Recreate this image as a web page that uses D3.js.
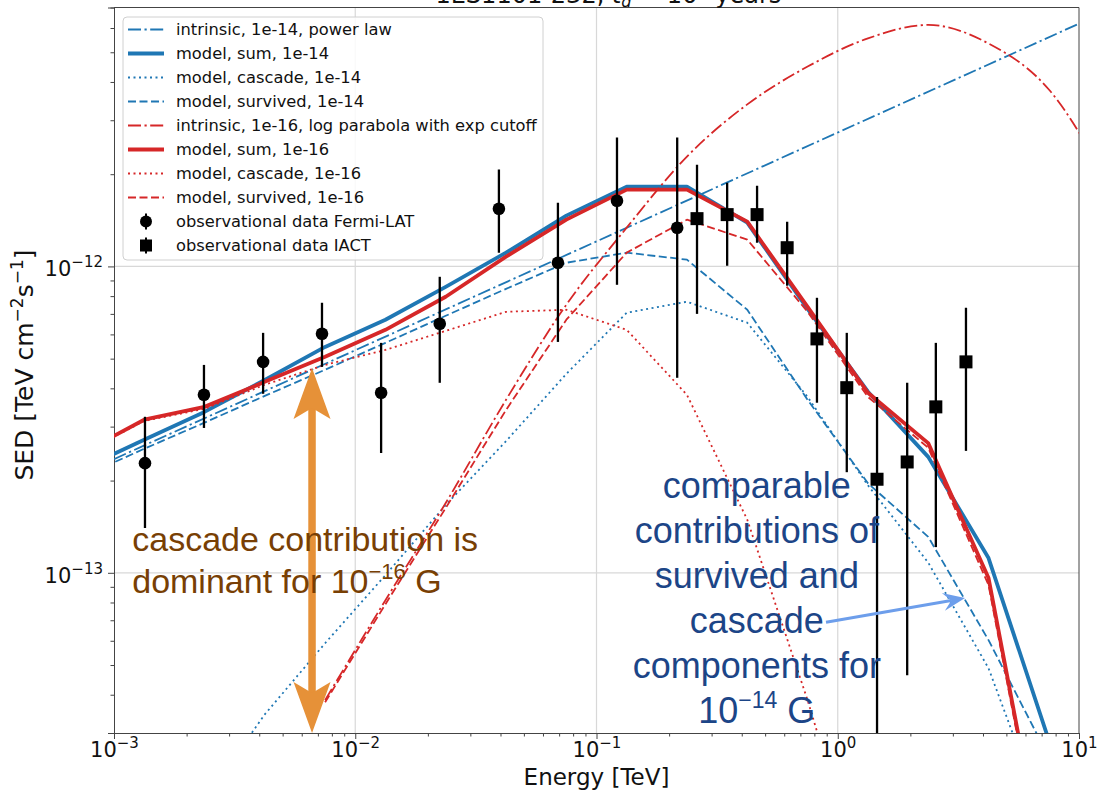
<!DOCTYPE html>
<html>
<head>
<meta charset="utf-8">
<script src="https://cdn.jsdelivr.net/npm/d3@7"></script>
<style>
    body { margin: 0; background: #fff; }
    svg { display: block; }
    text { font-family: "DejaVu Sans", sans-serif; }
    .note { font-family: "Liberation Sans", Arial, sans-serif; }
</style>
</head>
<body>
<svg id="chart" width="1097" height="792"></svg>
<script>
// model energy grid (TeV), 4 bins per decade
var energyGrid = [7.50e-4, 1.334e-3, 2.371e-3, 4.217e-3, 7.499e-3, 1.334e-2, 2.371e-2, 4.217e-2, 7.499e-2,
    0.1334, 0.2371, 0.4217, 0.7499, 1.334, 2.371, 4.217, 7.499, 13.34];

// intrinsic power law, 1e-14 G (straight in log-log)
var plawEnergy = [1e-3, 10],
    plawSed = [2.35e-13, 6.2e-12];

// B = 1e-14 G
var sum14 = [2.20e-13, 2.72e-13, 3.35e-13, 4.26e-13, 5.46e-13, 6.70e-13, 8.58e-13, 1.109e-12, 1.465e-12,
    1.822e-12, 1.822e-12, 1.389e-12, 7.27e-13, 3.90e-13, 2.39e-13, 1.117e-13, 2.84e-14, 5.9e-15];
var cascade14 = [null, null, 1.81e-14, 3.45e-14, 5.89e-14, 9.83e-14, 1.664e-13, 2.69e-13, 4.46e-13,
    7.06e-13, 7.67e-13, 6.55e-13, 3.75e-13, 1.93e-13, 1.08e-13, 4.88e-14, 1.44e-14, null];
var survived14 = [2.07e-13, 2.54e-13, 3.09e-13, 3.78e-13, 4.60e-13, 5.63e-13, 6.90e-13, 8.45e-13, 1.028e-12,
    1.109e-12, 1.052e-12, 7.22e-13, 3.67e-13, 1.96e-13, 1.31e-13, 6.03e-14, 2.50e-14, 8.5e-15];

// B = 1e-16 G
var intrinsic16 = [null, null, null, null, 3.84e-14, 8.14e-14, 1.69e-13, 3.67e-13, 7.50e-13,
    1.338e-12, 2.283e-12, 3.38e-12, 4.49e-12, 5.55e-12, 6.14e-12, 5.34e-12, 3.78e-12, 1.85e-12];
var sum16 = [2.48e-13, 3.16e-13, 3.48e-13, 4.20e-13, 5.07e-13, 6.21e-13, 7.96e-13, 1.076e-12, 1.421e-12,
    1.781e-12, 1.781e-12, 1.400e-12, 7.38e-13, 3.87e-13, 2.65e-13, 9.61e-14, 8.9e-15, null];
var cascade16 = [2.47e-13, 3.13e-13, 3.43e-13, 4.11e-13, 4.77e-13, 5.34e-13, 6.16e-13, 7.11e-13, 7.22e-13,
    6.21e-13, 3.81e-13, 1.49e-13, 3.84e-14, 8.5e-15, null, null, null, null];
var survived16 = [null, null, null, null, 3.78e-14, 7.90e-14, 1.627e-13, 3.40e-13, 6.70e-13,
    1.109e-12, 1.421e-12, 1.223e-12, 7.11e-13, 3.75e-13, 2.56e-13, 9.12e-14, 8.5e-15, null];

// observations
var fermiE = [1.344e-3, 2.36e-3, 4.15e-3, 7.28e-3, 1.28e-2, 2.24e-2, 3.94e-2, 6.92e-2, 0.1216, 0.216],
    fermiSed = [2.28e-13, 3.81e-13, 4.88e-13, 6.03e-13, 3.87e-13, 6.50e-13, 1.543e-12, 1.028e-12, 1.639e-12, 1.338e-12],
    fermiLo = [1.40e-13, 2.97e-13, 3.84e-13, 4.70e-13, 2.46e-13, 4.17e-13, 1.109e-12, 5.67e-13, 8.71e-13, 4.33e-13],
    fermiHi = [3.23e-13, 4.77e-13, 6.07e-13, 7.61e-13, 5.63e-13, 9.25e-13, 2.07e-12, 1.615e-12, 2.634e-12, 2.634e-12];
var iactE = [0.261, 0.348, 0.463, 0.617, 0.820, 1.09, 1.455, 1.94, 2.55, 3.40],
    iactSed = [1.432e-12, 1.476e-12, 1.476e-12, 1.151e-12, 5.80e-13, 4.02e-13, 2.02e-13, 2.30e-13, 3.48e-13, 4.88e-13],
    iactLo = [7.0e-13, 1.005e-12, 1.195e-12, 8.65e-13, 3.59e-13, 2.13e-13, 1e-15, 4.63e-14, 1.213e-13, 2.50e-13],
    iactHi = [2.149e-12, 1.877e-12, 1.835e-12, 1.40e-12, 7.90e-13, 6.07e-13, 3.75e-13, 4.17e-13, 5.63e-13, 7.33e-13];

var xMajor = [1e-3, 1e-2, 1e-1, 1, 10],
    yMajor = [1e-13, 1e-12];

var blue = "#1f77b4",
    red = "#d62728",
    dashStyle = "8,3.5",
    dotStyle = "2,3.5",
    dashDotStyle = "13,3.5,2.2,3.5";

var svg = d3.select("#chart"),
    margin = {top: 7.5, right: 18, bottom: 59, left: 114},
    width = 1097 - margin.left - margin.right,
    height = 792 - margin.top - margin.bottom,
    g = svg.append("g").attr("transform", "translate(" + margin.left + "," + margin.top + ")"),
    x = d3.scaleLog().domain([1e-3, 10]).range([0, width]),
    y = d3.scaleLog().domain([3e-14, 7e-12]).range([height, 0]);

function pairs(es, vs) {
    return es.map(function(e, i) { return [e, vs[i]]; });
}

var series = [
    {label: "intrinsic, 1e-14, power law", data: pairs(plawEnergy, plawSed), color: blue, w: 1.8, dash: dashDotStyle},
    {label: "model, sum, 1e-14", data: pairs(energyGrid, sum14), color: blue, w: 3.8, dash: null},
    {label: "model, cascade, 1e-14", data: pairs(energyGrid, cascade14), color: blue, w: 1.8, dash: dotStyle},
    {label: "model, survived, 1e-14", data: pairs(energyGrid, survived14), color: blue, w: 1.8, dash: dashStyle},
    {label: "intrinsic, 1e-16, log parabola with exp cutoff", data: pairs(energyGrid, intrinsic16), color: red, w: 1.8, dash: dashDotStyle, smooth: true},
    {label: "model, sum, 1e-16", data: pairs(energyGrid, sum16), color: red, w: 3.8, dash: null},
    {label: "model, cascade, 1e-16", data: pairs(energyGrid, cascade16), color: red, w: 1.8, dash: dotStyle},
    {label: "model, survived, 1e-16", data: pairs(energyGrid, survived16), color: red, w: 1.8, dash: dashStyle}
];

// clip
svg.append("defs").append("clipPath").attr("id", "plotClip")
    .append("rect").attr("width", width).attr("height", height);

// title (cut off by the top of the picture)
var title = svg.append("text")
    .attr("x", margin.left + x(0.112))
    .attr("y", 2.5)
    .attr("text-anchor", "middle")
    .attr("font-size", "24px")
    .attr("fill", "#111");
title.append("tspan").text("1ES1101-232, ");
title.append("tspan").attr("font-style", "italic").text("t");
title.append("tspan").attr("font-size", "16px").attr("dy", "4").attr("font-style", "italic").text("d");
title.append("tspan").attr("dy", "-4").text(" = 10");
title.append("tspan").attr("font-size", "16px").attr("dy", "-9").text("6");
title.append("tspan").attr("dy", "9").text(" years");

// grid
g.append("g").selectAll("line").data([1e-2, 1e-1, 1]).enter().append("line")
    .attr("x1", function(d) { return x(d); }).attr("x2", function(d) { return x(d); })
    .attr("y1", 0).attr("y2", height)
    .attr("stroke", "#d8d8d8").attr("stroke-width", 1.2);
g.append("g").selectAll("line").data(yMajor).enter().append("line")
    .attr("y1", function(d) { return y(d); }).attr("y2", function(d) { return y(d); })
    .attr("x1", 0).attr("x2", width)
    .attr("stroke", "#d8d8d8").attr("stroke-width", 1.2);

// minor tick positions
var xMinor = [], yMinor = [];
for (var k = -3; k < 1; k++) {
    for (var m = 2; m < 10; m++) {
        xMinor.push(m * Math.pow(10, k));
    }
}
for (var k2 = -14; k2 < -11; k2++) {
    for (var m2 = 2; m2 < 10; m2++) {
        var v = m2 * Math.pow(10, k2);
        if (v >= 3e-14 && v <= 7e-12) yMinor.push(v);
    }
}

function supTicks(sel) {
    sel.selectAll(".tick text").each(function(d) {
        var t = d3.select(this).text(""),
            p = Math.round(Math.log10(d));
        t.append("tspan").text("10");
        t.append("tspan").attr("font-size", "15px").attr("dy", "-0.6em")
            .text((p < 0 ? "\u2212" : "") + Math.abs(p));
    });
}

var xAxis = g.append("g")
    .attr("transform", "translate(0," + height + ")")
    .call(d3.axisBottom(x).tickValues(xMajor).tickSize(6).tickPadding(5).tickFormat(function(d) { return d; }));
xAxis.selectAll(".tick text").attr("font-size", "21px").attr("fill", "#111").attr("dy", "0.6em");
supTicks(xAxis);
g.append("g")
    .attr("transform", "translate(0," + height + ")")
    .call(d3.axisBottom(x).tickValues(xMinor).tickSize(3.5).tickFormat(""))
    .select(".domain").remove();

var yAxis = g.append("g")
    .call(d3.axisLeft(y).tickValues(yMajor).tickSize(6).tickPadding(5).tickFormat(function(d) { return d; }));
yAxis.selectAll(".tick text").attr("font-size", "21px").attr("fill", "#111").attr("dy", "0.45em");
supTicks(yAxis);
g.append("g")
    .call(d3.axisLeft(y).tickValues(yMinor).tickSize(3.5).tickFormat(""))
    .select(".domain").remove();

g.selectAll(".domain").attr("stroke", "#444");
g.selectAll(".tick line").attr("stroke", "#444");

// top / right spines
g.append("line").attr("x1", 0).attr("x2", width).attr("y1", 0).attr("y2", 0).attr("stroke", "#444");
g.append("line").attr("x1", width).attr("x2", width).attr("y1", 0).attr("y2", height).attr("stroke", "#444");

// axis labels
svg.append("text")
    .attr("x", margin.left + x(0.1))
    .attr("y", 785)
    .attr("text-anchor", "middle")
    .attr("font-size", "23px")
    .attr("fill", "#111")
    .text("Energy [TeV]");

var yLab = svg.append("text")
    .attr("transform", "translate(33,365) rotate(-90)")
    .attr("text-anchor", "middle")
    .attr("font-size", "25px")
    .attr("fill", "#111");
yLab.append("tspan").text("SED [TeV cm");
yLab.append("tspan").attr("font-size", "17px").attr("dy", "-10").text("\u22122");
yLab.append("tspan").attr("dy", "10").text("s");
yLab.append("tspan").attr("font-size", "17px").attr("dy", "-10").text("\u22121");
yLab.append("tspan").attr("dy", "10").text("]");

// legend (under the data, like in the original figure)
var legend = g.append("g").attr("transform", "translate(" + (123 - margin.left) + "," + (17 - margin.top) + ")");
legend.append("rect")
    .attr("width", 420).attr("height", 243).attr("rx", 4)
    .attr("fill", "#fff").attr("fill-opacity", 0.85)
    .attr("stroke", "#d0d0d0");

var legendRows = series.map(function(s) { return {label: s.label, s: s}; })
    .concat([{label: "observational data Fermi-LAT", marker: "circle"},
             {label: "observational data IACT", marker: "square"}]);

legendRows.forEach(function(row, i) {
    var ry = 12.5 + i * 24;
    if (row.s) {
        legend.append("line")
            .attr("x1", 5).attr("x2", 41).attr("y1", ry).attr("y2", ry)
            .attr("stroke", row.s.color).attr("stroke-width", row.s.w)
            .attr("stroke-dasharray", row.s.dash);
    } else {
        legend.append("line")
            .attr("x1", 23).attr("x2", 23).attr("y1", ry - 8).attr("y2", ry + 8)
            .attr("stroke", "#000").attr("stroke-width", 2);
        if (row.marker === "circle") {
            legend.append("circle").attr("cx", 23).attr("cy", ry).attr("r", 6).attr("fill", "#000");
        } else {
            legend.append("rect").attr("x", 17).attr("y", ry - 6).attr("width", 12).attr("height", 12).attr("fill", "#000");
        }
    }
    legend.append("text")
        .attr("x", 53).attr("y", ry)
        .attr("dy", "0.35em")
        .attr("font-size", "16.3px")
        .attr("fill", "#111")
        .text(row.label);
});

// model curves
var plot = g.append("g").attr("clip-path", "url(#plotClip)");

series.forEach(function(s) {
    var line = d3.line()
        .defined(function(d) { return d[1] != null; })
        .x(function(d) { return x(d[0]); })
        .y(function(d) { return y(d[1]); });
    if (s.smooth) line.curve(d3.curveMonotoneX);
    plot.append("path")
        .datum(s.data)
        .attr("fill", "none")
        .attr("stroke", s.color)
        .attr("stroke-width", s.w)
        .attr("stroke-dasharray", s.dash)
        .attr("stroke-linejoin", "round")
        .attr("d", line);
});

// data points with error bars
function drawData(es, vals, lo, hi, shape) {
    var pts = es.map(function(e, i) { return {e: e, v: vals[i], lo: lo[i], hi: hi[i]}; });
    plot.append("g").selectAll("line").data(pts).enter().append("line")
        .attr("x1", function(d) { return x(d.e); })
        .attr("x2", function(d) { return x(d.e); })
        .attr("y1", function(d) { return y(d.lo); })
        .attr("y2", function(d) { return y(d.hi); })
        .attr("stroke", "#000")
        .attr("stroke-width", 2.3);
    if (shape === "circle") {
        plot.append("g").selectAll("circle").data(pts).enter().append("circle")
            .attr("cx", function(d) { return x(d.e); })
            .attr("cy", function(d) { return y(d.v); })
            .attr("r", 6.3)
            .attr("fill", "#000");
    } else {
        plot.append("g").selectAll("rect").data(pts).enter().append("rect")
            .attr("x", function(d) { return x(d.e) - 6.5; })
            .attr("y", function(d) { return y(d.v) - 6.5; })
            .attr("width", 13)
            .attr("height", 13)
            .attr("fill", "#000");
    }
}
drawData(fermiE, fermiSed, fermiLo, fermiHi, "circle");
drawData(iactE, iactSed, iactLo, iactHi, "square");

// annotations
var orange = "#e69138",
    arrowX = x(6.62e-3),
    arrowTop = y(4.66e-13),
    arrowBot = height;
g.append("line")
    .attr("x1", arrowX).attr("x2", arrowX)
    .attr("y1", arrowTop + 40).attr("y2", arrowBot - 40)
    .attr("stroke", orange).attr("stroke-width", 7.5);
g.append("path")
    .attr("d", "M" + arrowX + "," + arrowTop + " L" + (arrowX + 18.5) + "," + (arrowTop + 51) +
        " L" + arrowX + "," + (arrowTop + 40) + " L" + (arrowX - 18.5) + "," + (arrowTop + 51) + " Z")
    .attr("fill", orange);
g.append("path")
    .attr("d", "M" + arrowX + "," + arrowBot + " L" + (arrowX + 18.5) + "," + (arrowBot - 51) +
        " L" + arrowX + "," + (arrowBot - 40) + " L" + (arrowX - 18.5) + "," + (arrowBot - 51) + " Z")
    .attr("fill", orange);

var brown = "#783f04",
    noteA = g.append("text")
        .attr("class", "note")
        .attr("x", x(1.19e-3))
        .attr("y", y(1.18e-13))
        .attr("font-size", "34px")
        .attr("fill", brown);
noteA.append("tspan").text("cascade contribution is");
var noteA2 = g.append("text")
    .attr("class", "note")
    .attr("x", x(1.19e-3))
    .attr("y", y(1.18e-13) + 42)
    .attr("font-size", "34px")
    .attr("fill", brown);
noteA2.append("tspan").text("dominant for 10");
noteA2.append("tspan").attr("font-size", "22px").attr("dy", "-14").text("\u221216");
noteA2.append("tspan").attr("dy", "14").text(" G");

var navy = "#1c4587",
    noteLines = ["comparable", "contributions of", "survived and", "cascade", "components for"],
    noteX = x(0.462),
    noteY = y(1.754e-13);
noteLines.forEach(function(t, i) {
    g.append("text")
        .attr("class", "note")
        .attr("x", noteX)
        .attr("y", noteY + i * 45)
        .attr("text-anchor", "middle")
        .attr("font-size", "36px")
        .attr("fill", navy)
        .text(t);
});
var noteB = g.append("text")
    .attr("class", "note")
    .attr("x", noteX)
    .attr("y", noteY + 5 * 45)
    .attr("text-anchor", "middle")
    .attr("font-size", "36px")
    .attr("fill", navy);
noteB.append("tspan").text("10");
noteB.append("tspan").attr("font-size", "23px").attr("dy", "-15").text("\u221214");
noteB.append("tspan").attr("dy", "15").text(" G");

var lightBlue = "#6d9eeb",
    bx1 = x(0.894), by1 = y(6.9e-14),
    bx2 = x(3.37), by2 = y(8.27e-14),
    ang = Math.atan2(by2 - by1, bx2 - bx1),
    headLen = 22, headW = 9;
g.append("line")
    .attr("x1", bx1).attr("y1", by1)
    .attr("x2", bx2 - Math.cos(ang) * 14).attr("y2", by2 - Math.sin(ang) * 14)
    .attr("stroke", lightBlue).attr("stroke-width", 3);
g.append("path")
    .attr("d", "M" + bx2 + "," + by2 +
        " L" + (bx2 - Math.cos(ang) * headLen - Math.sin(ang) * headW) + "," + (by2 - Math.sin(ang) * headLen + Math.cos(ang) * headW) +
        " L" + (bx2 - Math.cos(ang) * 14) + "," + (by2 - Math.sin(ang) * 14) +
        " L" + (bx2 - Math.cos(ang) * headLen + Math.sin(ang) * headW) + "," + (by2 - Math.sin(ang) * headLen - Math.cos(ang) * headW) + " Z")
    .attr("fill", lightBlue);
</script>
</body>
</html>
